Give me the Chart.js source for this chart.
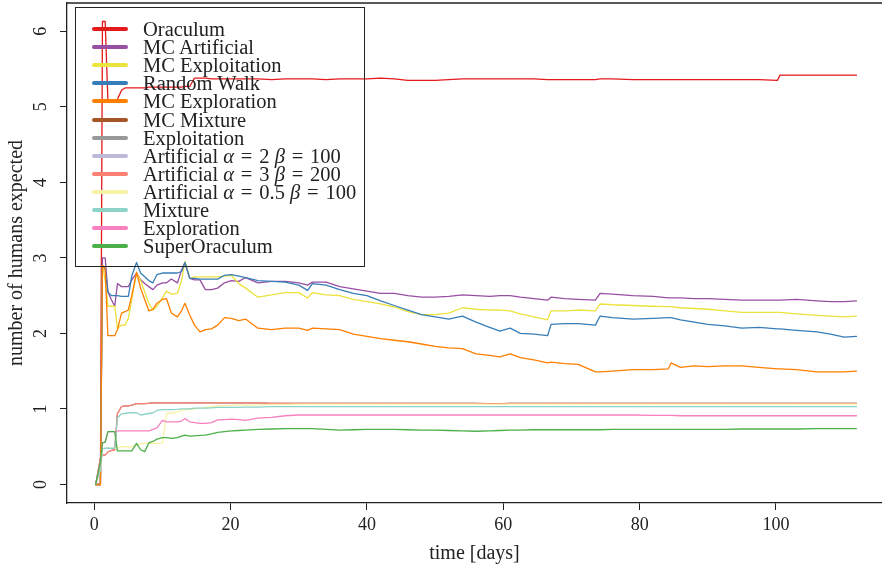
<!DOCTYPE html>
<html>
<head>
<meta charset="utf-8">
<script src="https://cdn.jsdelivr.net/npm/chart.js@4.4.1/dist/chart.umd.min.js"></script>
<style>
  body { margin: 0; background: #fff; }
  #wrap { position: relative; width: 882px; height: 570px; }
  #legend {
    position: absolute; left: 75px; top: 7px; width: 290px; height: 260px;
    border: 1.3px solid #222; box-sizing: border-box;
    font-family: 'Liberation Serif', serif; font-size: 20.5px; color: #222;
  }
  .row { position: absolute; left: 0; height: 18px; width: 100%; }
  .sw { position: absolute; left: 16px; top: 7px; width: 36px; height: 4px; border-radius: 2px; }
  .lb { position: absolute; left: 67px; top: 0; line-height: 18px; white-space: nowrap; }
</style>
</head>
<body>
<div id="wrap">
  <canvas id="simChart" width="882" height="570"></canvas>
  <div id="legend"></div>
</div>
<script>
// time axis (days), shared by every series
const days = [0.2, 0.9, 1.2, 1.6, 2.0, 2.5, 3.0, 3.4, 4.0, 4.5,
  5.0, 5.5, 6.2, 6.8, 7.4, 8.0, 8.6, 9.2, 10.0, 10.6,
  11.3, 12.2, 12.8, 13.3, 14.0, 14.7, 15.5, 16.3, 17.2, 18.1,
  19.1, 20.1, 21.2, 22.2, 24, 26, 28, 30, 31.3, 32,
  34, 36, 38, 40, 42, 44, 46, 48, 50, 52,
  54, 56, 58, 59.5, 61, 62.5, 64.5, 66.5, 67, 69,
  71, 73.5, 74.2, 76, 79, 82, 84.2, 84.6, 86, 88,
  90, 92.5, 95, 97.5, 100.2, 100.6, 103, 106, 108, 110,
  111.8];

const oraculum = [0, 0, 6.13, 6.13, 5.08, 5.08, 5.08, 5.1, 5.22, 5.25,
  5.25, 5.25, 5.25, 5.25, 5.25, 5.26, 5.26, 5.26, 5.26, 5.26,
  5.26, 5.26, 5.26, 5.27, 5.27, 5.38, 5.38, 5.38, 5.37, 5.37,
  5.37, 5.37, 5.37, 5.37, 5.37, 5.36, 5.37, 5.37, 5.37, 5.37,
  5.36, 5.37, 5.37, 5.37, 5.38, 5.37, 5.35, 5.35, 5.35, 5.36,
  5.37, 5.37, 5.37, 5.37, 5.37, 5.37, 5.37, 5.36, 5.36, 5.36,
  5.36, 5.36, 5.37, 5.37, 5.36, 5.36, 5.36, 5.36, 5.36, 5.36,
  5.36, 5.36, 5.36, 5.36, 5.35, 5.42, 5.42, 5.42, 5.42, 5.42,
  5.42];

const mcArtificial = [0, 0, 3.0, 3.0, 2.55, 2.45, 2.36, 2.66, 2.62, 2.62,
  2.62, 2.71, 2.80, 2.71, 2.66, 2.62, 2.58, 2.64, 2.67, 2.67,
  2.72, 2.67, 2.84, 2.94, 2.73, 2.71, 2.71, 2.58, 2.58, 2.60,
  2.67, 2.70, 2.69, 2.74, 2.67, 2.69, 2.69, 2.67, 2.64, 2.68,
  2.68, 2.62, 2.59, 2.56, 2.53, 2.53, 2.50, 2.48, 2.48, 2.49,
  2.51, 2.50, 2.49, 2.50, 2.50, 2.48, 2.46, 2.44, 2.48, 2.46,
  2.45, 2.44, 2.53, 2.52, 2.50, 2.49, 2.47, 2.47, 2.47, 2.46,
  2.46, 2.45, 2.44, 2.44, 2.44, 2.44, 2.45, 2.43, 2.42, 2.42,
  2.43];

const mcExploitation = [0, 0, 2.9, 2.70, 2.36, 2.36, 2.36, 2.07, 2.11, 2.11,
  2.20, 2.45, 2.80, 2.70, 2.55, 2.40, 2.31, 2.36, 2.47, 2.56,
  2.52, 2.53, 2.70, 2.95, 2.73, 2.75, 2.75, 2.75, 2.75, 2.75,
  2.76, 2.77, 2.66, 2.60, 2.48, 2.51, 2.54, 2.54, 2.47, 2.54,
  2.51, 2.50, 2.45, 2.42, 2.39, 2.35, 2.29, 2.25, 2.25, 2.27,
  2.34, 2.32, 2.31, 2.31, 2.30, 2.26, 2.22, 2.18, 2.30, 2.30,
  2.31, 2.30, 2.39, 2.38, 2.37, 2.36, 2.355, 2.355, 2.34, 2.33,
  2.32, 2.30, 2.28, 2.28, 2.28, 2.28, 2.26, 2.24, 2.23, 2.22,
  2.23];

const randomWalk = [0, 0, 2.90, 2.85, 2.55, 2.50, 2.50, 2.50, 2.49, 2.49,
  2.49, 2.76, 2.94, 2.80, 2.75, 2.70, 2.67, 2.78, 2.80, 2.80,
  2.80, 2.80, 2.82, 2.94, 2.73, 2.73, 2.72, 2.72, 2.72, 2.72,
  2.77, 2.78, 2.76, 2.74, 2.70, 2.69, 2.68, 2.64, 2.57, 2.66,
  2.64, 2.58, 2.53, 2.50, 2.43, 2.37, 2.31, 2.25, 2.22, 2.19,
  2.23, 2.15, 2.08, 2.03, 2.07, 2.00, 1.99, 1.97, 2.12, 2.13,
  2.13, 2.11, 2.23, 2.21, 2.19, 2.20, 2.21, 2.21, 2.18, 2.15,
  2.12, 2.10, 2.07, 2.08, 2.06, 2.06, 2.04, 2.02, 1.99, 1.95,
  1.96];

const mcExploration = [0, 0, 2.90, 2.85, 1.97, 1.97, 1.97, 2.05, 2.27, 2.29,
  2.31, 2.50, 2.81, 2.60, 2.45, 2.30, 2.32, 2.40, 2.45, 2.46,
  2.27, 2.22, 2.30, 2.40, 2.245, 2.11, 2.02, 2.05, 2.06, 2.11,
  2.21, 2.20, 2.17, 2.19, 2.07, 2.05, 2.07, 2.07, 2.04, 2.07,
  2.06, 2.05, 1.99, 1.96, 1.93, 1.91, 1.89, 1.86, 1.83, 1.81,
  1.80, 1.73, 1.71, 1.69, 1.73, 1.68, 1.65, 1.61, 1.62, 1.60,
  1.59, 1.49, 1.49, 1.50, 1.52, 1.52, 1.53, 1.61, 1.55, 1.57,
  1.56, 1.57, 1.57, 1.55, 1.53, 1.53, 1.52, 1.49, 1.49, 1.49,
  1.50];

// MC Mixture, Exploitation and Artificial a=2 sit under the a=3 line
const mcMixture = [0, 0.35, 0.39, 0.39, 0.43, 0.45, 0.46, 0.94, 1.03, 1.04,
  1.04, 1.05, 1.07, 1.07, 1.07, 1.075, 1.08, 1.08, 1.08, 1.08,
  1.08, 1.08, 1.08, 1.08, 1.08, 1.08, 1.08, 1.08, 1.08, 1.08,
  1.08, 1.08, 1.08, 1.08, 1.08, 1.075, 1.075, 1.075, 1.075, 1.075,
  1.075, 1.075, 1.075, 1.075, 1.075, 1.075, 1.075, 1.075, 1.075, 1.075,
  1.075, 1.075, 1.07, 1.07, 1.075, 1.075, 1.075, 1.075, 1.075, 1.075,
  1.075, 1.075, 1.075, 1.075, 1.075, 1.075, 1.075, 1.075, 1.075, 1.075,
  1.075, 1.075, 1.075, 1.075, 1.075, 1.075, 1.075, 1.075, 1.075, 1.075,
  1.075];

const exploitation = [0, 0.35, 0.39, 0.39, 0.43, 0.45, 0.46, 0.94, 1.03, 1.04,
  1.04, 1.05, 1.07, 1.07, 1.07, 1.075, 1.08, 1.08, 1.08, 1.08,
  1.08, 1.08, 1.08, 1.08, 1.08, 1.08, 1.08, 1.08, 1.08, 1.08,
  1.08, 1.08, 1.08, 1.08, 1.08, 1.075, 1.075, 1.075, 1.075, 1.075,
  1.075, 1.075, 1.075, 1.075, 1.075, 1.075, 1.075, 1.075, 1.075, 1.075,
  1.075, 1.075, 1.07, 1.07, 1.075, 1.075, 1.075, 1.075, 1.075, 1.075,
  1.075, 1.075, 1.075, 1.075, 1.075, 1.075, 1.075, 1.075, 1.075, 1.075,
  1.075, 1.075, 1.075, 1.075, 1.075, 1.075, 1.075, 1.075, 1.075, 1.075,
  1.075];

const artA2 = [0, 0.35, 0.39, 0.39, 0.43, 0.45, 0.46, 0.94, 1.03, 1.04,
  1.04, 1.05, 1.07, 1.07, 1.07, 1.075, 1.08, 1.08, 1.08, 1.08,
  1.08, 1.08, 1.08, 1.08, 1.08, 1.08, 1.08, 1.08, 1.08, 1.08,
  1.08, 1.08, 1.08, 1.08, 1.08, 1.075, 1.075, 1.075, 1.075, 1.075,
  1.075, 1.075, 1.075, 1.075, 1.075, 1.075, 1.075, 1.075, 1.075, 1.075,
  1.075, 1.075, 1.07, 1.07, 1.075, 1.075, 1.075, 1.075, 1.075, 1.075,
  1.075, 1.075, 1.075, 1.075, 1.075, 1.075, 1.075, 1.075, 1.075, 1.075,
  1.075, 1.075, 1.075, 1.075, 1.075, 1.075, 1.075, 1.075, 1.075, 1.075,
  1.075];

const artA3 = [0, 0.35, 0.39, 0.39, 0.43, 0.45, 0.46, 0.94, 1.03, 1.04,
  1.04, 1.05, 1.07, 1.07, 1.07, 1.075, 1.08, 1.08, 1.08, 1.08,
  1.08, 1.08, 1.08, 1.08, 1.08, 1.08, 1.08, 1.08, 1.08, 1.08,
  1.08, 1.08, 1.08, 1.08, 1.08, 1.075, 1.075, 1.075, 1.075, 1.075,
  1.075, 1.075, 1.075, 1.075, 1.075, 1.075, 1.075, 1.075, 1.075, 1.075,
  1.075, 1.075, 1.07, 1.07, 1.075, 1.075, 1.075, 1.075, 1.075, 1.075,
  1.075, 1.075, 1.075, 1.075, 1.075, 1.075, 1.075, 1.075, 1.075, 1.075,
  1.075, 1.075, 1.075, 1.075, 1.075, 1.075, 1.075, 1.075, 1.075, 1.075,
  1.075];

const artA05 = [0, 0.2, 0.47, 0.48, 0.48, 0.48, 0.48, 0.48, 0.50, 0.50,
  0.50, 0.50, 0.52, 0.54, 0.545, 0.545, 0.545, 0.545, 0.55, 0.94,
  0.95, 0.96, 0.98, 0.99, 0.99, 1.0, 1.01, 1.02, 1.03, 1.04,
  1.045, 1.05, 1.05, 1.05, 1.055, 1.06, 1.062, 1.064, 1.065, 1.065,
  1.065, 1.065, 1.065, 1.065, 1.065, 1.065, 1.065, 1.065, 1.065, 1.065,
  1.065, 1.065, 1.062, 1.062, 1.065, 1.065, 1.065, 1.065, 1.065, 1.065,
  1.065, 1.065, 1.065, 1.065, 1.065, 1.065, 1.065, 1.065, 1.065, 1.065,
  1.065, 1.065, 1.065, 1.065, 1.065, 1.065, 1.065, 1.065, 1.065, 1.065,
  1.065];

const mixture = [0, 0.2, 0.47, 0.48, 0.48, 0.48, 0.48, 0.88, 0.935, 0.94,
  0.95, 0.95, 0.95, 0.92, 0.93, 0.94, 0.95, 0.98, 0.99, 0.99,
  0.99, 0.995, 1.0, 1.0, 1.0, 1.01, 1.01, 1.01, 1.015, 1.02,
  1.02, 1.02, 1.02, 1.025, 1.025, 1.03, 1.03, 1.03, 1.03, 1.03,
  1.03, 1.03, 1.03, 1.03, 1.03, 1.03, 1.03, 1.03, 1.03, 1.03,
  1.03, 1.03, 1.03, 1.03, 1.03, 1.03, 1.03, 1.03, 1.03, 1.03,
  1.03, 1.03, 1.03, 1.03, 1.03, 1.03, 1.03, 1.03, 1.03, 1.03,
  1.03, 1.03, 1.03, 1.03, 1.03, 1.03, 1.03, 1.03, 1.03, 1.03,
  1.03];

const exploration = [0, 0.3, 0.55, 0.56, 0.70, 0.70, 0.70, 0.71, 0.71, 0.71,
  0.71, 0.71, 0.71, 0.71, 0.71, 0.71, 0.73, 0.75, 0.85, 0.83,
  0.83, 0.83, 0.84, 0.875, 0.83, 0.82, 0.81, 0.81, 0.82, 0.855,
  0.86, 0.865, 0.86, 0.85, 0.88, 0.89, 0.91, 0.92, 0.92, 0.92,
  0.92, 0.92, 0.92, 0.92, 0.92, 0.92, 0.92, 0.92, 0.92, 0.92,
  0.92, 0.92, 0.92, 0.92, 0.92, 0.92, 0.92, 0.92, 0.92, 0.92,
  0.92, 0.92, 0.92, 0.92, 0.92, 0.915, 0.915, 0.915, 0.91, 0.91,
  0.91, 0.91, 0.91, 0.91, 0.91, 0.91, 0.91, 0.91, 0.91, 0.91,
  0.91];

const superOraculum = [0, 0.3, 0.55, 0.56, 0.70, 0.70, 0.70, 0.445, 0.445, 0.445,
  0.445, 0.445, 0.545, 0.46, 0.435, 0.55, 0.57, 0.60, 0.62, 0.62,
  0.61, 0.62, 0.64, 0.655, 0.64, 0.645, 0.65, 0.655, 0.67, 0.69,
  0.70, 0.71, 0.715, 0.72, 0.73, 0.735, 0.74, 0.74, 0.74, 0.74,
  0.73, 0.72, 0.725, 0.73, 0.73, 0.73, 0.725, 0.72, 0.72, 0.715,
  0.71, 0.705, 0.71, 0.715, 0.72, 0.72, 0.725, 0.725, 0.725, 0.725,
  0.725, 0.725, 0.725, 0.73, 0.73, 0.73, 0.73, 0.73, 0.73, 0.73,
  0.73, 0.73, 0.735, 0.735, 0.735, 0.735, 0.735, 0.74, 0.74, 0.74,
  0.74];

const seriesNames = ['Oraculum', 'MC Artificial', 'MC Exploitation', 'Random Walk',
  'MC Exploration', 'MC Mixture', 'Exploitation', 'Artificial α = 2 β = 100',
  'Artificial α = 3 β = 200', 'Artificial α = 0.5 β = 100', 'Mixture',
  'Exploration', 'SuperOraculum'];
const seriesValues = [oraculum, mcArtificial, mcExploitation, randomWalk,
  mcExploration, mcMixture, exploitation, artA2, artA3, artA05, mixture,
  exploration, superOraculum];
const seriesColors = ['#E41A1C', '#984EA3', '#EBE23C', '#377EB8', '#FF7F00',
  '#A65628', '#999999', '#BEBADA', '#FB8072', '#F6F3A6', '#8DD3C7',
  '#F781BF', '#4DAF4A'];
// the three lines that end up covered are drawn thinner so no edge peeks out
const coveredSeries = ['MC Mixture', 'Exploitation', 'Artificial α = 2 β = 100'];

const xTicks = [0, 20, 40, 60, 80, 100];
const yTicks = [0, 1, 2, 3, 4, 5, 6];

const serif = "'Liberation Serif', serif";
const ink = '#222';

// R-style box: only the top edge is missing from Chart.js borders
const topEdge = {
  id: 'topEdge',
  afterDraw(chart) {
    const a = chart.chartArea;
    const c = chart.ctx;
    c.save();
    c.strokeStyle = ink;
    c.lineWidth = 1.3;
    c.beginPath();
    c.moveTo(a.left, a.top);
    c.lineTo(a.right, a.top);
    c.stroke();
    c.restore();
  }
};

const datasets = seriesNames.map((name, i) => ({
  label: name,
  data: seriesValues[i].map((v, j) => ({ x: days[j], y: v })),
  borderColor: seriesColors[i],
  backgroundColor: seriesColors[i],
  borderWidth: coveredSeries.includes(name) ? 0.8 : 1.3,
  borderJoinStyle: 'round',
  borderCapStyle: 'round',
  pointRadius: 0,
  tension: 0,
  fill: false,
  order: seriesNames.length - i
}));

const simChart = new Chart('simChart', {
  type: 'line',
  data: { datasets: datasets },
  options: {
    responsive: false,
    animation: false,
    layout: { padding: { top: 3, right: 0, left: 0, bottom: 0 } },
    plugins: { legend: { display: false }, tooltip: { enabled: false } },
    scales: {
      x: {
        type: 'linear',
        min: -4.0,
        max: 115.55,
        afterBuildTicks: (s) => { s.ticks = xTicks.map(v => ({ value: v })); },
        afterFit: (s) => { s.height = 67; s.paddingLeft = 0; s.paddingRight = 0; },
        grid: { drawOnChartArea: false, tickLength: 7, color: ink, lineWidth: 1 },
        border: { display: true, color: ink, width: 1.3 },
        ticks: { color: ink, font: { family: serif, size: 18 }, padding: 4, maxRotation: 0 },
        title: { display: true, text: 'time [days]', color: ink,
                 font: { family: serif, size: 20 }, padding: { top: 0, bottom: 4 } }
      },
      y: {
        type: 'linear',
        min: -0.245,
        max: 6.375,
        afterBuildTicks: (s) => { s.ticks = yTicks.map(v => ({ value: v })); },
        afterFit: (s) => { s.width = 67; s.paddingTop = 0; s.paddingBottom = 0; },
        grid: { drawOnChartArea: false, tickLength: 7, color: ink, lineWidth: 1 },
        border: { display: true, color: ink, width: 1.3 },
        ticks: { color: ink, font: { family: serif, size: 18 }, padding: 14,
                 minRotation: 90, maxRotation: 90, crossAlign: 'center' },
        title: { display: true, text: 'number of humans expected', color: ink,
                 font: { family: serif, size: 20 }, padding: { top: 5, bottom: 0 } }
      }
    }
  },
  plugins: [topEdge]
});

// legend in the R style, over the plot, transparent
const legendBox = document.getElementById('legend');
simChart.data.datasets.forEach((ds, i) => {
  const row = document.createElement('div');
  row.className = 'row';
  row.style.top = (12 + i * 18.12) + 'px';
  const sw = document.createElement('div');
  sw.className = 'sw';
  sw.style.background = ds.borderColor;
  const lb = document.createElement('div');
  lb.className = 'lb';
  lb.innerHTML = ds.label.replace(/([αβ])/g, '<i>$1</i>').replace(/ = /g, '&#8202; = &#8202;');
  row.appendChild(sw);
  row.appendChild(lb);
  legendBox.appendChild(row);
});
</script>
</body>
</html>
